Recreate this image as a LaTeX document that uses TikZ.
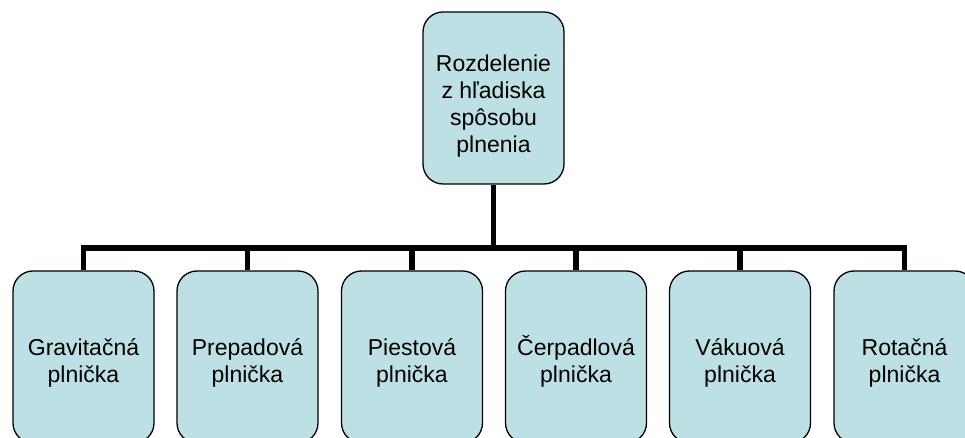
\documentclass[tikz,border=0pt]{standalone}
\usepackage{fontspec}
\setmainfont{Liberation Sans}
\newcommand{\toprule}{\rule{0pt}{21.5pt}}
\begin{document}
\begin{tikzpicture}[x=1pt,y=1pt,
  box/.style={draw=black, line width=1.3pt, fill=boxfill, rounded corners=20pt,
    minimum width=141pt, minimum height=172pt, inner sep=0pt},
  txt/.style={align=center, inner sep=0pt, font=\fontsize{23}{27}\selectfont},
  conn/.style={line width=5.5pt, draw=black}]
\definecolor{boxfill}{RGB}{189,224,228}
\useasboundingbox (0,0) rectangle (965,438);
\clip (0,0) rectangle (965,438);
\node[box] (top) at (493.5,340) {};
\node[box] (b1) at (83.5,81) {};
\node[box] (b2) at (247.5,81) {};
\node[box] (b3) at (412,81) {};
\node[box] (b4) at (576,81) {};
\node[box] (b5) at (740,81) {};
\node[box] (b6) at (904.5,81) {};
\node[txt] (ttop) at ([yshift=-5.2pt]top.center) {\toprule Rozdelenie\\z hľadiska\\spôsobu\\plnenia};
\node[txt] (t1) at ([yshift=-3.7pt]b1.center) {\toprule Gravitačná\\plnička};
\node[txt] (t2) at ([yshift=-3.7pt]b2.center) {\toprule Prepadová\\plnička};
\node[txt] (t3) at ([yshift=-3.7pt]b3.center) {\toprule Piestová\\plnička};
\node[txt] (t4) at ([yshift=-3.7pt]b4.center) {\toprule Čerpadlová\\plnička};
\node[txt] (t5) at ([yshift=-3.7pt]b5.center) {\toprule Vákuová\\plnička};
\node[txt] (t6) at ([yshift=-3.7pt]b6.center) {\toprule Rotačná\\plnička};
\coordinate (bar) at (493.5,190);
\draw[conn] (top.south) -- (bar);
\draw[conn] (b1.north) -- (b1.north |- bar) -- (b6.north |- bar) -- (b6.north);
\foreach \n in {b2,b3,b4,b5}
  \draw[conn] (\n.north |- bar) -- (\n.north);
\end{tikzpicture}
\end{document}
